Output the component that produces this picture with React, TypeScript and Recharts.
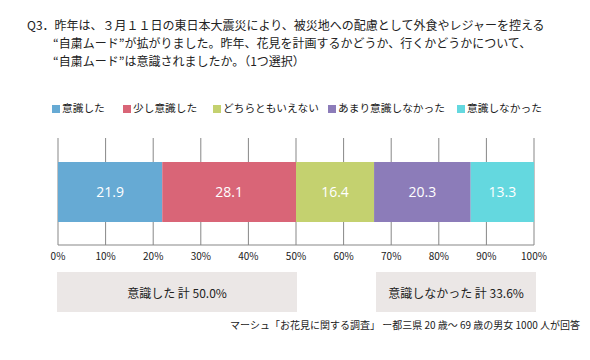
import { Bar, BarChart, CartesianGrid, LabelList, XAxis, YAxis } from "recharts";

const seriesNames = ["意識した", "少し意識した", "どちらともいえない", "あまり意識しなかった", "意識しなかった"];
const seriesValues = [21.9, 28.1, 16.4, 20.3, 13.3];
const seriesColors = ["#66aad4", "#d96577", "#c4d16f", "#8c7cb9", "#64d8df"];
const xTicks = [0, 10, 20, 30, 40, 50, 60, 70, 80, 90, 100];
const titleLines = [
  "Q3．昨年は、３月１１日の東日本大震災により、被災地への配慮として外食やレジャーを控える",
  "“自粛ムード”が拡がりました。昨年、花見を計画するかどうか、行くかどうかについて、",
  "“自粛ムード”は意識されましたか。（1つ選択）",
];
const summaryLabels = ["意識した 計 50.0%", "意識しなかった 計 33.6%"];
const sourceNote = "マーシュ「お花見に関する調査」 ー都三県 20 歳～ 69 歳の男女 1000 人が回答";

// legend item left edges, as measured on the reference
const legendX = [52, 123, 213, 328, 457];

const keys = seriesNames.map((_, i) => `s${i}`);
const row: Record<string, number | string> = { name: "" };
keys.forEach((k, i) => (row[k] = seriesValues[i]));
const data = [row];

const FONT = '"Noto Sans CJK JP", "Noto Sans", sans-serif';
const GRID = "#878787";
const BOX = { position: "absolute", top: 272, height: 40, background: "#ebe7e6", display: "flex", alignItems: "center", justifyContent: "center", fontSize: 12 } as const;

export default function App() {
  return (
    <div style={{ position: "absolute", left: 0, top: 0, width: 590, height: 360, background: "#fff", fontFamily: FONT, color: "#222" }}>
      <div style={{ position: "absolute", left: 27, top: 16, fontSize: 12, lineHeight: "18px", whiteSpace: "nowrap" }}>
        <div>{titleLines[0]}</div>
        <div style={{ paddingLeft: 26 }}>{titleLines[1]}</div>
        <div style={{ paddingLeft: 26 }}>{titleLines[2]}</div>
      </div>

      {seriesNames.map((n, i) => (
        <div key={n} style={{ position: "absolute", left: legendX[i], top: 100, display: "flex", alignItems: "center", fontSize: 10.7, lineHeight: "16px", whiteSpace: "nowrap" }}>
          <span style={{ display: "inline-block", width: 8, height: 8, background: seriesColors[i], marginRight: 2, marginTop: 2 }} />
          <span>{n}</span>
        </div>
      ))}

      <div style={{ position: "absolute", left: 0, top: 0 }}>
        <BarChart width={590} height={360} data={data} layout="vertical" margin={{ top: 138, right: 56, bottom: 95, left: 58 }} barSize={60}>
          <CartesianGrid vertical horizontal={false} stroke={GRID} />
          <XAxis
            type="number"
            domain={[0, 100]}
            ticks={xTicks}
            tickFormatter={(v: number) => `${v}%`}
            tick={{ fontSize: 10, fill: "#222", fontFamily: FONT }}
            tickLine={false}
            axisLine={{ stroke: GRID }}
            height={20}
            interval={0}
          />
          <XAxis xAxisId="top" orientation="top" type="number" domain={[0, 100]} tick={false} tickLine={false} axisLine={{ stroke: GRID }} height={0} />
          <YAxis type="category" dataKey="name" hide width={0} />
          {keys.map((k, i) => (
            <Bar key={k} dataKey={k} stackId="a" fill={seriesColors[i]} isAnimationActive={false}>
              <LabelList dataKey={k} position="center" fill="#fff" fontSize={14} fontFamily='"Open Sans", sans-serif' />
            </Bar>
          ))}
        </BarChart>
      </div>

      <div style={{ ...BOX, left: 57, width: 240 }}>{summaryLabels[0]}</div>
      <div style={{ ...BOX, left: 376, width: 160 }}>{summaryLabels[1]}</div>

      <div style={{ position: "absolute", right: 10, top: 317, fontSize: 10, lineHeight: "16px", whiteSpace: "nowrap" }}>{sourceNote}</div>
    </div>
  );
}
